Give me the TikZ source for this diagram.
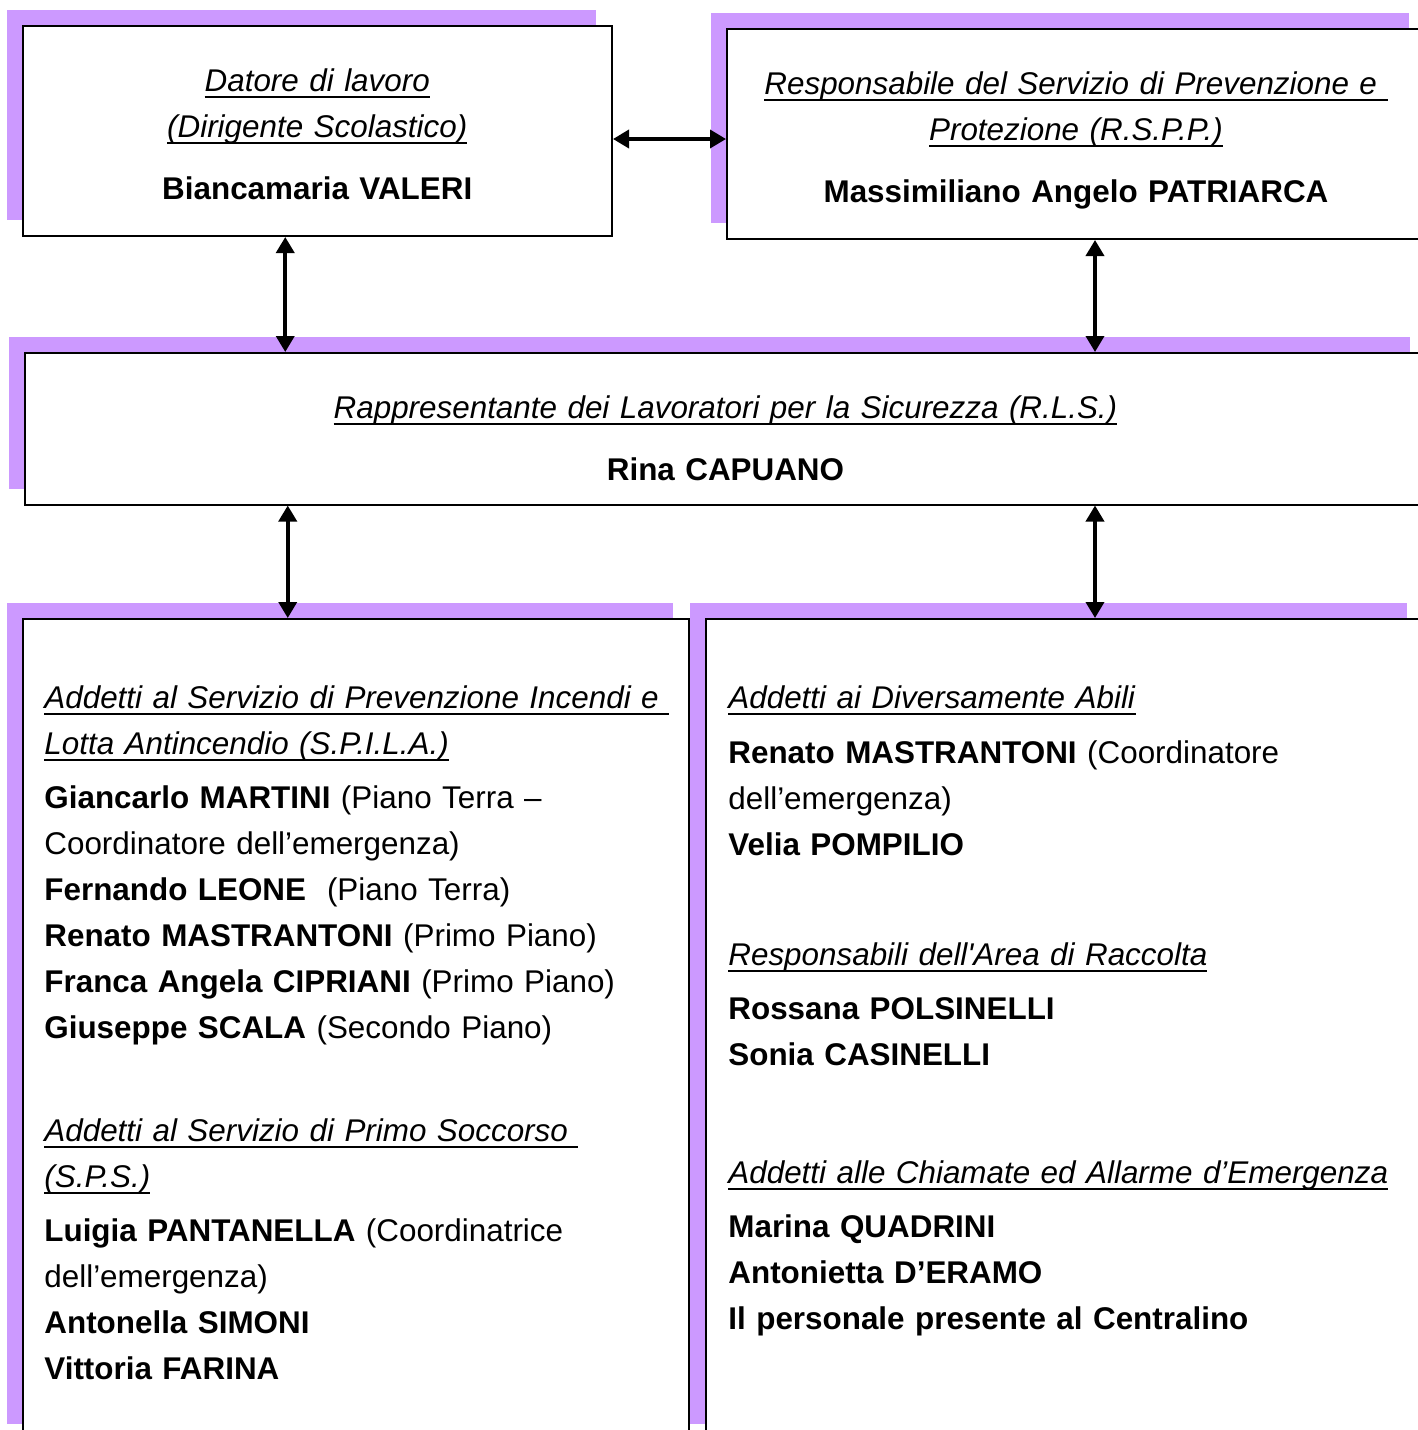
\documentclass[tikz,border=0pt]{standalone}
\usepackage{fontspec}
\setmainfont{Liberation Sans}
\usetikzlibrary{arrows.meta, positioning, shadows}

\definecolor{lilac}{HTML}{CC99FF}

% underline that keeps a trailing space
\newsavebox\undlbox
\newcommand\undl[1]{\leavevmode\sbox\undlbox{#1}\rlap{\rule[-3.6pt]{\wd\undlbox}{1.2pt}}\usebox\undlbox}

\begin{document}
\begin{tikzpicture}[
  x=0.5pt, y=-0.5pt,
  >={Triangle[length=8pt, width=9pt]},
  font=\fontsize{15.7}{23}\selectfont,
  card/.style={
    rectangle, draw, line width=1pt,
    fill=white, inner sep=0pt,
    drop shadow={shadow xshift=-8pt, shadow yshift=8pt, fill=lilac, opacity=1}
  },
  headtxt/.style={anchor=base, align=center, text width=#1, inner sep=0pt},
  bodytxt/.style={anchor=base west, align=left, text width=#1, inner sep=0pt},
  link/.style={<->, line width=1.8pt},
]
\clip (0,0) rectangle (1418,1430);
\useasboundingbox (0,0) rectangle (1418,1430);

% --- Boxes ---
\node[card, minimum width=294.75pt, minimum height=105pt] (datore) at (317.25,131) {};
\node[card, minimum width=349pt, minimum height=105pt] (rspp) at (1076,134) {};
\node[card, minimum width=700.5pt, minimum height=75.75pt] (rls) at (725.5,428.75) {};
\node[card, minimum width=333.25pt, minimum height=410.5pt] (spila) at (355.75,1029.5) {};
\node[card, minimum width=358.5pt, minimum height=410.5pt] (abili) at (1064.5,1029.5) {};

% --- Texts ---
\node[headtxt=294pt] (datoreTxt) at (317.25,91)
  {\undl{\textit{Datore di lavoro}}\\
   \undl{\textit{(Dirigente Scolastico)}}\\[8pt]
   \textbf{Biancamaria VALERI}};
\node[headtxt=349pt] (rsppTxt) at (1076,94)
  {\undl{\textit{Responsabile del Servizio di Prevenzione e\ }}\\
   \undl{\textit{Protezione (R.S.P.P.)}}\\[8pt]
   \textbf{Massimiliano Angelo PATRIARCA}};
\node[headtxt=700pt] (rlsTxt) at (725.5,418)
  {\undl{\textit{Rappresentante dei Lavoratori per la Sicurezza (R.L.S.)}}\\[8pt]
   \textbf{Rina CAPUANO}};

\node[bodytxt=330pt] (spilaTxt) at (44,708)
  {\undl{\textit{Addetti al Servizio di Prevenzione Incendi e\ }}\\
   \undl{\textit{Lotta Antincendio (S.P.I.L.A.)}}\\[4pt]
   \textbf{Giancarlo MARTINI} (Piano Terra –\\
   Coordinatore dell’emergenza)\\
   \textbf{Fernando LEONE}\ \ (Piano Terra)\\
   \textbf{Renato MASTRANTONI} (Primo Piano)\\
   \textbf{Franca Angela CIPRIANI} (Primo Piano)\\
   \textbf{Giuseppe SCALA} (Secondo Piano)\\[28.5pt]
   \undl{\textit{Addetti al Servizio di Primo Soccorso\ }}\\
   \undl{\textit{(S.P.S.)}}\\[4pt]
   \textbf{Luigia PANTANELLA} (Coordinatrice\\
   dell’emergenza)\\
   \textbf{Antonella SIMONI}\\
   \textbf{Vittoria FARINA}};

\node[bodytxt=340pt] (abiliTxt) at (728,708)
  {\undl{\textit{Addetti ai Diversamente Abili}}\\[4.5pt]
   \textbf{Renato MASTRANTONI} (Coordinatore\\
   dell’emergenza)\\
   \textbf{Velia POMPILIO}\\[32pt]
   \undl{\textit{Responsabili dell\textquotesingle Area di Raccolta}}\\[4pt]
   \textbf{Rossana POLSINELLI}\\
   \textbf{Sonia CASINELLI}\\[36pt]
   \undl{\textit{Addetti alle Chiamate ed Allarme d’Emergenza}}\\[4pt]
   \textbf{Marina QUADRINI}\\
   \textbf{Antonietta D’ERAMO}\\
   \textbf{Il personale presente al Centralino}};

% --- Arrows ---
\draw[link] ([yshift=-4pt]datore.east) -- ([yshift=-4pt]datore.east -| rspp.west);
\draw[link] ([xshift=-16pt]datore.south) -- ([xshift=-16pt]datore.south |- rls.north);
\draw[link] ([xshift=9.5pt]rspp.south) -- ([xshift=9.5pt]rspp.south |- rls.north);
\draw[link] ([xshift=-34pt]spila.north |- rls.south) -- ([xshift=-34pt]spila.north);
\draw[link] ([xshift=15.25pt]abili.north |- rls.south) -- ([xshift=15.25pt]abili.north);

\end{tikzpicture}
\end{document}
